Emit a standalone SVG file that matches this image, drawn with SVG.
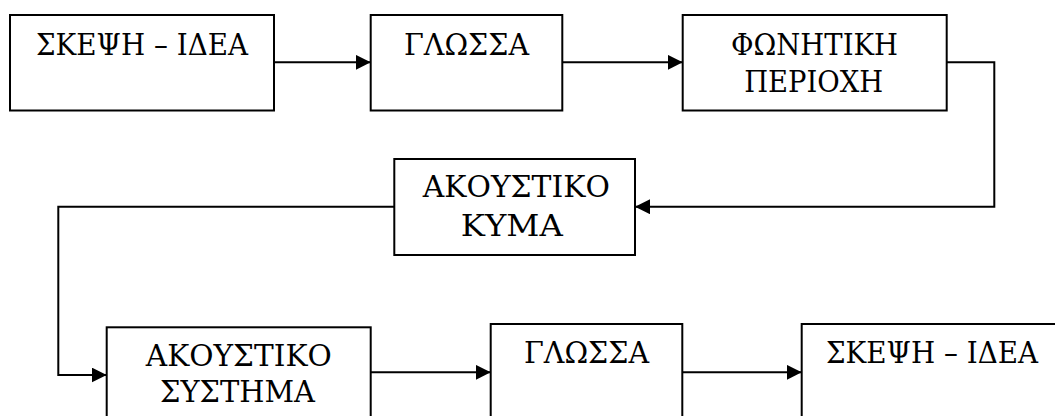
<svg xmlns="http://www.w3.org/2000/svg" width="1055" height="416" viewBox="0 0 1055 416">
  <style>
    .box { fill: #ffffff; stroke: #000000; stroke-width: 2; }
    .lbl { font-family: "DejaVu Serif", "Liberation Serif", serif; font-size: 30px; fill: #000000; text-anchor: middle; }
    .wire { fill: none; stroke: #000000; stroke-width: 2; }
  </style>
  <defs>
    <marker id="arrow" markerUnits="userSpaceOnUse" markerWidth="16" markerHeight="16" refX="15" refY="7.5" orient="auto">
      <path d="M0,0 L15,7.5 L0,15 Z" fill="#000000"/>
    </marker>
  </defs>

  <!-- first row: speaker -->
  <g id="node-skepsi-1">
    <rect class="box" x="10" y="15" width="264" height="95.5"/>
    <text class="lbl" x="142" y="55" textLength="212" lengthAdjust="spacingAndGlyphs">ΣΚΕΨΗ – ΙΔΕΑ</text>
  </g>
  <g id="node-glossa-1">
    <rect class="box" x="370.7" y="15" width="191.6" height="95.5"/>
    <text class="lbl" x="466.5" y="55" textLength="125" lengthAdjust="spacingAndGlyphs">ΓΛΩΣΣΑ</text>
  </g>
  <g id="node-foniti">
    <rect class="box" x="682.7" y="15" width="264" height="95.5"/>
    <text class="lbl" x="814.5" y="55" textLength="167" lengthAdjust="spacingAndGlyphs">ΦΩΝΗΤΙΚΗ</text>
    <text class="lbl" x="813.7" y="92" textLength="139" lengthAdjust="spacingAndGlyphs">ΠΕΡΙΟΧΗ</text>
  </g>

  <!-- middle: the sound wave -->
  <g id="node-kyma">
    <rect class="box" x="394.3" y="159" width="240.7" height="96"/>
    <text class="lbl" x="516.3" y="197" textLength="187" lengthAdjust="spacingAndGlyphs">ΑΚΟΥΣΤΙΚΟ</text>
    <text class="lbl" x="511.8" y="236" textLength="102" lengthAdjust="spacingAndGlyphs">ΚΥΜΑ</text>
  </g>

  <!-- bottom row: listener -->
  <g id="node-systima">
    <rect class="box" x="106.7" y="327.3" width="264" height="110"/>
    <text class="lbl" x="238.8" y="366" textLength="186" lengthAdjust="spacingAndGlyphs">ΑΚΟΥΣΤΙΚΟ</text>
    <text class="lbl" x="237.5" y="402" textLength="155" lengthAdjust="spacingAndGlyphs">ΣΥΣΤΗΜΑ</text>
  </g>
  <g id="node-glossa-2">
    <rect class="box" x="490.7" y="324" width="191.6" height="110"/>
    <text class="lbl" x="586.5" y="362.5" textLength="125" lengthAdjust="spacingAndGlyphs">ΓΛΩΣΣΑ</text>
  </g>
  <g id="node-skepsi-2">
    <rect class="box" x="801.7" y="324" width="280" height="110"/>
    <text class="lbl" x="932" y="362.5" textLength="212" lengthAdjust="spacingAndGlyphs">ΣΚΕΨΗ – ΙΔΕΑ</text>
  </g>

  <g id="connectors">
    <path class="wire" d="M274,62.3 H370.7" marker-end="url(#arrow)"/>
    <path class="wire" d="M562.3,62.3 H682.7" marker-end="url(#arrow)"/>
    <path class="wire" d="M946.7,62.3 H994.3 V206.7 H635" marker-end="url(#arrow)"/>
    <path class="wire" d="M394.3,206.7 H58.3 V375 H106.7" marker-end="url(#arrow)"/>
    <path class="wire" d="M370.7,372.3 H490.7" marker-end="url(#arrow)"/>
    <path class="wire" d="M682.3,372.3 H801.7" marker-end="url(#arrow)"/>
  </g>
</svg>
